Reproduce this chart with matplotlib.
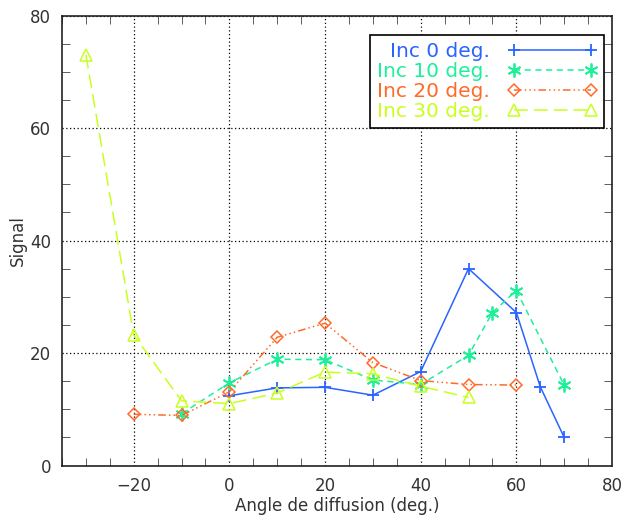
import matplotlib
matplotlib.use("Agg")
import matplotlib.pyplot as plt
from matplotlib.ticker import MultipleLocator

# data
x_inc0 = [0, 10, 20, 30, 40, 50, 60, 65, 70]
y_inc0 = [12.4, 13.8, 13.9, 12.5, 16.7, 35.0, 27.2, 14.0, 5.0]

x_inc10 = [-10, 0, 10, 20, 30, 40, 50, 55, 60, 70]
y_inc10 = [9.2, 14.7, 18.9, 18.8, 15.2, 14.4, 19.6, 27.2, 31.1, 14.3]

x_inc20 = [-20, -10, 0, 10, 20, 30, 40, 50, 60]
y_inc20 = [9.1, 8.9, 13.1, 22.8, 25.3, 18.3, 15.1, 14.4, 14.3]

x_inc30 = [-30, -20, -10, 0, 10, 20, 30, 40, 50]
y_inc30 = [73.0, 23.2, 11.5, 11.0, 12.9, 16.6, 16.3, 14.1, 12.1]

labels = ["Inc 0 deg.", "Inc 10 deg.", "Inc 20 deg.", "Inc 30 deg."]
colors = ["#2a64ff", "#1ef09a", "#ff6a2a", "#c8ff1e"]

fig = plt.figure(figsize=(6.25, 5.15), dpi=100)
ax = fig.add_axes([0.0992, 0.0961, 0.8800, 0.8738])

ax.plot(x_inc0, y_inc0, color=colors[0], lw=1.1, ls="-",
        marker="+", ms=9, mew=1.3, label=labels[0])
ax.plot(x_inc10, y_inc10, color=colors[1], lw=1.1, ls=(0, (4, 3)),
        marker=(6, 2, 0), ms=10, mew=1.3, label=labels[1])
ax.plot(x_inc20, y_inc20, color=colors[2], lw=1.1,
        ls=(0, (5, 2, 1, 2, 1, 2, 1, 2)),
        marker="D", ms=6, mfc="none", mew=1.1, label=labels[2])
ax.plot(x_inc30, y_inc30, color=colors[3], lw=1.1, ls=(0, (9, 4)),
        marker="^", ms=8, mfc="none", mew=1.1, label=labels[3])

ax.set_xlim(-35, 80)
ax.set_ylim(0, 80)
ax.xaxis.set_major_locator(MultipleLocator(20))
ax.xaxis.set_minor_locator(MultipleLocator(5))
ax.yaxis.set_major_locator(MultipleLocator(20))
ax.yaxis.set_minor_locator(MultipleLocator(5))
ax.tick_params(which="both", direction="in", top=True, right=True,
               color="#444444", labelsize=12, labelcolor="#333333")
ax.tick_params(which="major", length=0, pad=8)
ax.tick_params(which="minor", length=6)
ax.grid(True, which="major", color="black", ls=(0, (1, 2)), lw=0.9)
for s in ax.spines.values():
    s.set_linewidth(1.2)
    s.set_color("#222222")

ax.set_xlabel("Angle de diffusion (deg.)", fontsize=12, color="#333333", labelpad=2)
ax.set_ylabel("Signal", fontsize=12, color="#333333", labelpad=2)

leg = ax.legend(loc="upper right", bbox_to_anchor=(0.985, 0.957),
                borderaxespad=0, fontsize=14.5, markerfirst=False,
                handlelength=4.4, handletextpad=0.9, borderpad=0.35,
                labelspacing=0.05, fancybox=False, framealpha=1,
                edgecolor="black", numpoints=2)
leg.get_frame().set_linewidth(1.2)
for t, c in zip(leg.get_texts(), colors):
    t.set_color(c)

fig.savefig("out.png", dpi=100)
